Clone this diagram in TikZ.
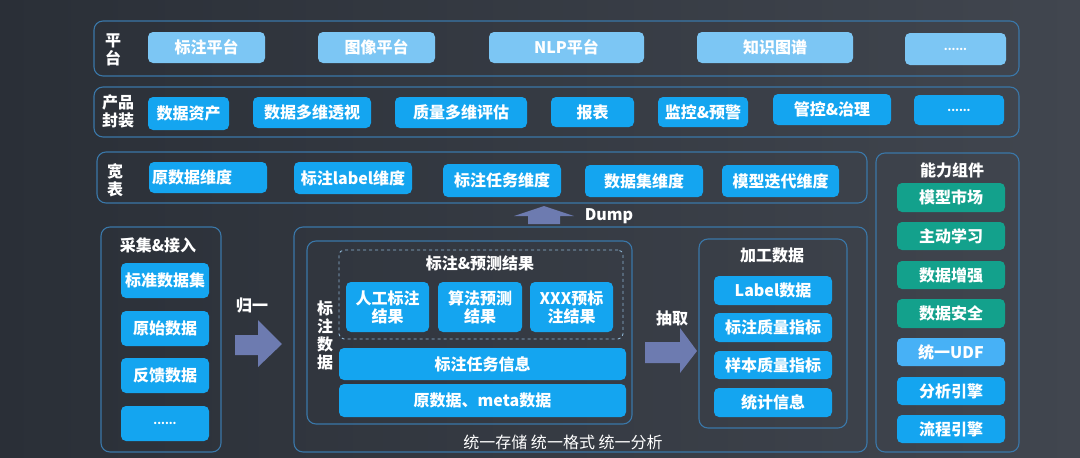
\documentclass[tikz,border=0pt]{standalone}
\usepackage{fontspec}
\setmainfont{Noto Sans CJK SC}
\definecolor{bgL}{HTML}{2A2F37}
\definecolor{bgR}{HTML}{41464F}
\definecolor{frm}{HTML}{3A77A8}
\definecolor{lightb}{HTML}{7CC6F4}
\definecolor{brightb}{HTML}{14A5F0}
\definecolor{tealc}{HTML}{13A18C}
\definecolor{udfc}{HTML}{47B1F6}
\definecolor{arrc}{HTML}{6D7BB0}
\definecolor{dashc}{HTML}{8EB5D3}
\tikzset{
  frame/.style={draw=frm, line width=1.1pt, rounded corners=9pt, inner sep=0pt},
  bx/.style={fill=brightb, rounded corners=5pt, text=white, font=\bfseries\fontsize{16}{18}\selectfont, inner sep=0pt, align=center},
  lbx/.style={bx, fill=lightb},
  tbx/.style={bx, fill=tealc},
  ubx/.style={bx, fill=udfc},
  lbl/.style={text=white, font=\bfseries\fontsize{16}{18}\selectfont, align=center, inner sep=0pt},
  dots/.style={font=\bfseries\fontsize{11}{12}\selectfont},
  fat/.style={fill=arrc}
}
% name, style, x1, y1, x2, y2, text
\newcommand\pbox[7]{\node[#2, minimum width={(#5-#3)*1pt}, minimum height={(#6-#4)*1pt}] (#1) at ({(#3+#5)/2},{(#4+#6)/2}) {#7};}
\begin{document}
\begin{tikzpicture}[x=1pt,y=-1pt]
\useasboundingbox (0,0) rectangle (1080,458);
\shade[left color=bgL, right color=bgR] (0,0) rectangle (1080,458);

% Row 1
\pbox{f1}{frame}{94}{21}{1019}{76}{}
\node[lbl] (l1) at (113,50) {平\\台};
\pbox{p1}{lbx}{148}{32}{265}{63}{标注平台}
\pbox{p2}{lbx}{318}{32}{435}{63}{图像平台}
\pbox{p3}{lbx}{489}{32}{644}{63}{NLP平台}
\pbox{p4}{lbx}{697}{32}{853}{63}{知识图谱}
\pbox{p5}{lbx,dots}{905}{33}{1006}{65}{......}

% Row 2
\pbox{f2}{frame}{94}{87}{1019}{137}{}
\node[lbl] (l2) at (118,111) {产品\\封装};
\pbox{q1}{bx}{148}{97}{229}{130}{数据资产}
\pbox{q2}{bx}{253}{97}{371}{128}{数据多维透视}
\pbox{q3}{bx}{395}{97}{527}{128}{质量多维评估}
\pbox{q4}{bx}{551}{97}{634}{127}{报表}
\pbox{q5}{bx}{658}{97}{748}{127}{监控\&预警}
\pbox{q6}{bx}{773}{94}{891}{125}{管控\&治理}
\pbox{q7}{bx,dots}{914}{95}{1004}{125}{......}

% Row 3
\pbox{f3}{frame}{97}{152}{867}{203}{}
\node[lbl] (l3) at (115,180) {宽\\表};
\pbox{w1}{bx, text width=112pt, align=left, inner xsep=3pt}{149}{162}{267}{193}{原数据维度}
\pbox{w2}{bx}{294}{162}{412}{194}{标注label维度}
\pbox{w3}{bx}{443}{164}{561}{197}{标注任务维度}
\pbox{w4}{bx}{585}{165}{703}{197}{数据集维度}
\pbox{w5}{bx}{722}{165}{839}{197}{模型迭代维度}

% Dump arrow
\fill[fat] (528,224) -- (528,216) -- (514,216) -- (544,206) -- (574,216) -- (560,216) -- (560,224) -- cycle;
\node[lbl] (dump) at (609,216) {Dump};

% Capability panel
\pbox{fc}{frame}{876}{153}{1019}{452}{}
\node[lbl] (tc) at (952,170) {能力组件};
\pbox{c1}{tbx}{897}{183}{1005}{212}{模型市场}
\pbox{c2}{tbx}{897}{222}{1005}{250}{主动学习}
\pbox{c3}{tbx}{897}{261}{1005}{289}{数据增强}
\pbox{c4}{tbx}{897}{299}{1005}{328}{数据安全}
\pbox{c5}{ubx}{897}{338}{1005}{366}{统一UDF}
\pbox{c6}{bx}{897}{377}{1005}{405}{分析引擎}
\pbox{c7}{bx}{897}{415}{1005}{443}{流程引擎}

% Collect
\pbox{fa}{frame}{101}{227}{221}{452}{}
\node[lbl] (ta) at (158,245) {采集\&接入};
\pbox{a1}{bx}{121}{263}{209}{298}{标准数据集}
\pbox{a2}{bx}{121}{311}{209}{346}{原始数据}
\pbox{a3}{bx}{121}{358}{209}{393}{反馈数据}
\pbox{a4}{bx,dots}{121}{406}{209}{441}{......}

% Normalize arrow
\node[lbl] (gy) at (252,306) {归一};
\fill[fat] (235,335) -- (258,335) -- (258,320) -- (282,344) -- (258,367) -- (258,355) -- (235,355) -- cycle;

% Middle
\pbox{fm}{frame}{294}{227}{867}{452}{}
\pbox{fi}{frame}{307}{241}{632}{424}{}
\node[lbl] (li) at (325,335) {标\\注\\数\\据};
\pbox{fd}{draw=dashc, dashed, line width=0.9pt, rounded corners=5pt, inner sep=0pt}{339}{250}{623}{339}{}
\node[lbl] (td) at (480,263) {标注\&预测结果};
\pbox{m1}{bx}{346}{282}{429}{332}{人工标注\\结果}
\pbox{m2}{bx}{438}{282}{522}{332}{算法预测\\结果}
\pbox{m3}{bx}{530}{282}{613}{332}{XXX预标\\注结果}
\pbox{m4}{bx}{339}{348}{626}{380}{标注任务信息}
\pbox{m5}{bx}{339}{384}{626}{417}{原数据、meta数据}
\node[text=white, font=\fontsize{16}{18}\selectfont, inner sep=0pt] (tm) at (563,442) {统一存储 统一格式 统一分析};

% Extract arrow
\node[lbl] (cq) at (672,318) {抽取};
\fill[fat] (645,342) -- (680,342) -- (680,328) -- (697,351) -- (680,373) -- (680,363) -- (645,363) -- cycle;

% Processed
\pbox{fp}{frame}{699}{239}{847}{428}{}
\node[lbl] (tp) at (772,255) {加工数据};
\pbox{r1}{bx}{714}{276}{832}{305}{Label数据}
\pbox{r2}{bx}{714}{313}{832}{342}{标注质量指标}
\pbox{r3}{bx}{714}{351}{832}{379}{样本质量指标}
\pbox{r4}{bx}{714}{388}{832}{417}{统计信息}
\end{tikzpicture}
\end{document}
